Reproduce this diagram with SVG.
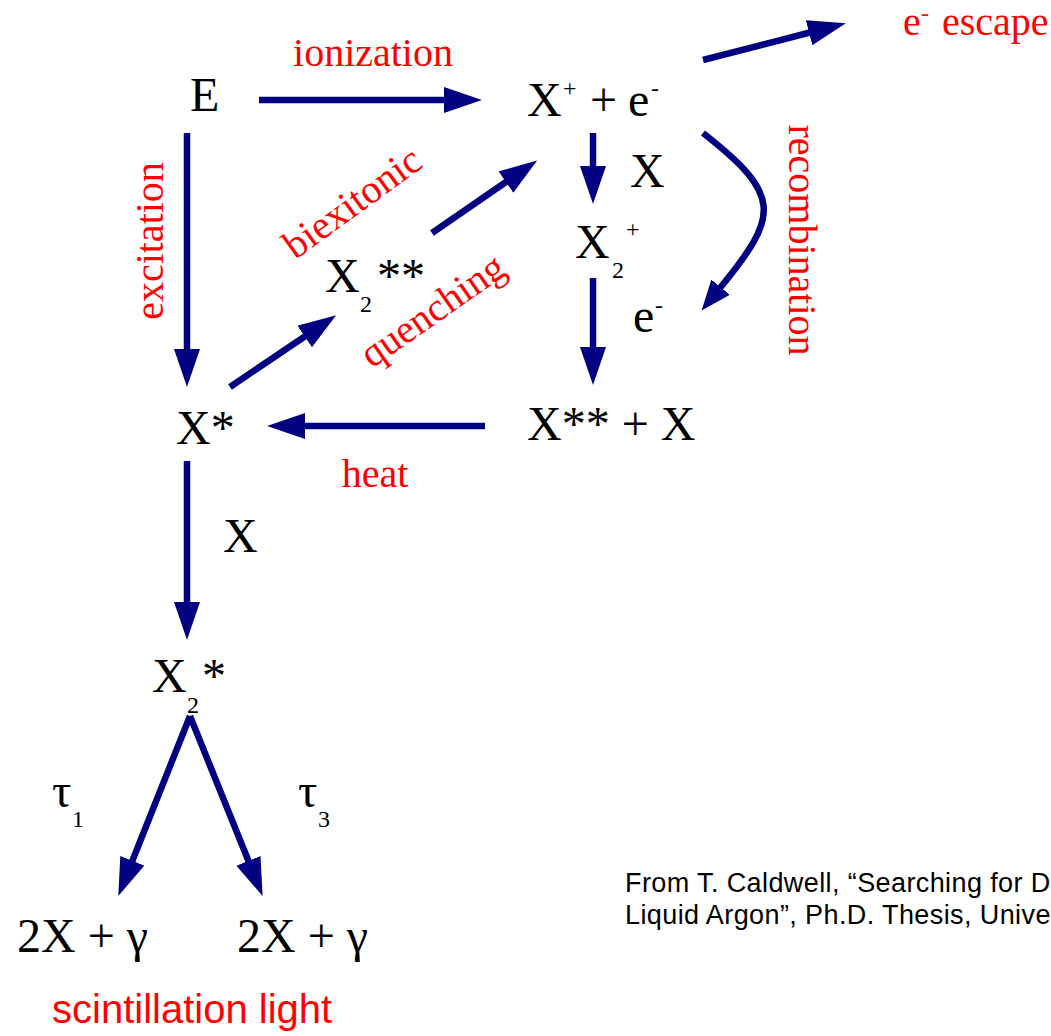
<svg xmlns="http://www.w3.org/2000/svg" width="1051" height="1036" viewBox="0 0 1051 1036">
<defs>
<style>
.t{font-family:"Liberation Serif","Times New Roman",serif;font-size:48px;fill:#000}
.s{font-family:"Liberation Serif","Times New Roman",serif;font-size:24px;fill:#000}
.r{font-family:"Liberation Serif","Times New Roman",serif;font-size:40px;fill:#ff0000}
.rs{font-family:"Liberation Serif","Times New Roman",serif;font-size:24px;fill:#ff0000}
.a{font-family:"Liberation Sans",Arial,sans-serif;font-size:40px;fill:#ff0000}
.c{font-family:"Liberation Sans",Arial,sans-serif;font-size:27px;letter-spacing:0.4px;fill:#000}
.ln{fill:none;stroke:#000080;stroke-width:6.5;marker-end:url(#ah)}
.cv{fill:none;stroke:#000080;stroke-width:6.5;marker-end:url(#ah2)}
</style>
<marker id="ah" markerUnits="userSpaceOnUse" markerWidth="40" markerHeight="28" refX="1" refY="13" orient="auto" viewBox="0 0 40 28">
<path d="M0,0 L38,13 L0,26 z" fill="#000080"/>
</marker>
<marker id="ah2" markerUnits="userSpaceOnUse" markerWidth="32" markerHeight="26" refX="1" refY="12" orient="auto" viewBox="0 0 32 26">
<path d="M0,0 L30,12 L0,24 z" fill="#000080"/>
</marker>
</defs>
<rect width="1051" height="1036" fill="#fff"/>

<g id="connectors">
<path class="ln" d="M259,100 L445,100"/>
<path class="ln" d="M703,60 L810,32.5"/>
<path class="ln" d="M187,133 L187,350"/>
<path class="ln" d="M230,387 L305.5,336"/>
<path class="ln" d="M432,233 L506.7,181.5"/>
<path class="ln" d="M593,133 L593,167"/>
<path class="ln" d="M593,278 L593,348"/>
<path class="ln" d="M485,426 L304,426"/>
<path class="ln" d="M187,461 L187,603"/>
<path class="ln" d="M190,716 L132,861.7"/>
<path class="ln" d="M190,716 L248.8,861.8"/>
<path class="cv" d="M703,133 C782,195 780,215 720,288"/>
</g>

<g id="labels">
<text class="r" x="373" y="66" text-anchor="middle">ionization</text>
<text class="r" transform="translate(163,241) rotate(-90)" text-anchor="middle">excitation</text>
<text class="r" transform="translate(360,213) rotate(-36)" text-anchor="middle">biexitonic</text>
<text class="r" transform="translate(440,321) rotate(-35)" text-anchor="middle">quenching</text>
<text class="r" transform="translate(789,240) rotate(90)" text-anchor="middle">recombination</text>
<text class="r" x="375" y="487" text-anchor="middle">heat</text>
<text class="t" x="630" y="187">X</text>
<text class="t" x="633" y="332">e</text><text class="s" x="655" y="313">-</text>
<text class="t" x="223" y="552">X</text>
<text class="t" x="52" y="807">τ</text><text class="s" x="72" y="827">1</text>
<text class="t" x="298" y="807">τ</text><text class="s" x="318" y="827">3</text>
</g>

<g id="node-E"><text class="t" x="190" y="111">E</text></g>
<g id="node-Xplus"><text class="t" x="527" y="116">X</text><text class="s" x="563" y="96">+</text><text class="t" x="590" y="116">+</text><text class="t" x="628" y="116">e</text><text class="s" x="651" y="96">-</text></g>
<g id="node-escape"><text class="r" x="903" y="35">e</text><text class="rs" x="921" y="21">-</text><text class="r" x="942" y="35">escape</text></g>
<g id="node-X2plus"><text class="t" x="575" y="258">X</text><text class="s" x="612" y="278">2</text><text class="s" x="626" y="237">+</text></g>
<g id="node-X2ss"><text class="t" x="325" y="292">X</text><text class="s" x="360" y="312">2</text><text class="t" x="377" y="292">**</text></g>
<g id="node-Xs"><text class="t" x="176" y="444">X*</text></g>
<g id="node-Xss"><text class="t" x="527" y="440">X** + X</text></g>
<g id="node-X2s"><text class="t" x="152" y="692">X</text><text class="s" x="187" y="713">2</text><text class="t" x="202" y="692">*</text></g>
<g id="node-gamma1"><text class="t" x="17" y="952">2X + γ</text></g>
<g id="node-gamma3"><text class="t" x="237" y="952">2X + γ</text></g>
<g id="caption-light"><text class="a" x="52" y="1023">scintillation light</text></g>
<g id="citation">
<text class="c" x="625" y="892">From T. Caldwell, “Searching for D</text>
<text class="c" x="625" y="924">Liquid Argon”, Ph.D. Thesis, Unive</text>
</g>
</svg>
